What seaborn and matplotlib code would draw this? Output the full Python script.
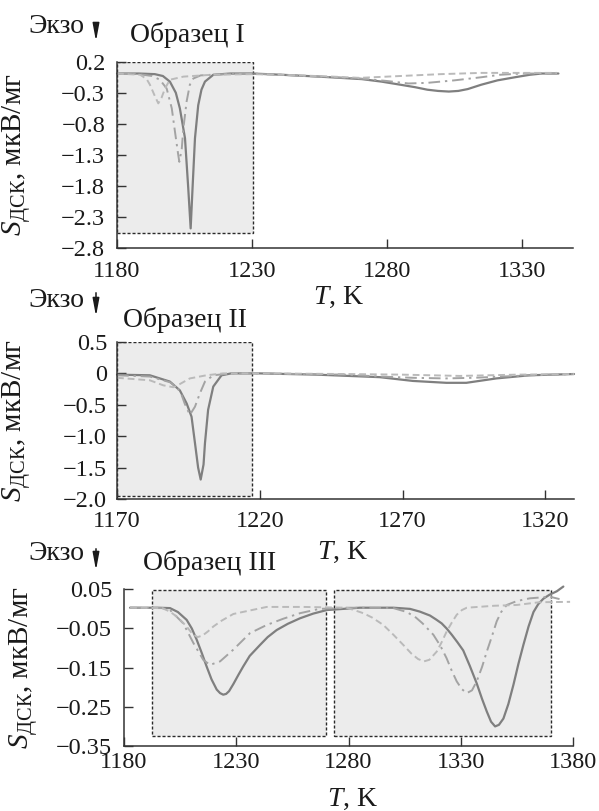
import matplotlib
matplotlib.use('Agg')
import matplotlib.pyplot as plt
import seaborn as sns
import pandas as pd
from matplotlib.patches import Rectangle, FancyArrowPatch

# ---------------- data ----------------
# Panel I
T1_solid = [1180, 1188, 1194, 1197, 1199.6, 1201.8, 1203.3, 1205.2, 1206.4, 1207.3, 1208.0, 1208.9, 1210.1,
            1211.3, 1212.6, 1215.7, 1222, 1230, 1241, 1255, 1270.7, 1278, 1285, 1290.5, 1295, 1299, 1303,
            1306.5, 1310, 1315, 1321, 1327.5, 1333, 1337.4, 1343.6]
S1_solid = [0.01, 0.01, 0.0, -0.03, -0.12, -0.3, -0.55, -1.03, -1.83, -2.48, -1.83, -1.03, -0.5,
            -0.25, -0.12, -0.01, 0.01, 0.01, -0.01, -0.04, -0.08, -0.12, -0.17, -0.21, -0.25, -0.27, -0.28,
            -0.27, -0.24, -0.17, -0.1, -0.05, -0.01, 0.01, 0.01]
T1_dd = [1180, 1188, 1193, 1195.9, 1198.4, 1200.3, 1201.5, 1202.7, 1203.1, 1204.0, 1204.6, 1205.8, 1207.0,
         1208.3, 1211, 1220, 1230, 1241, 1255, 1270, 1280, 1288, 1295, 1305, 1315, 1322, 1330, 1343]
S1_dd = [0.01, 0.0, -0.03, -0.09, -0.23, -0.55, -0.93, -1.3, -1.41, -1.2, -0.87, -0.44, -0.17,
         -0.07, -0.02, 0.0, 0.01, -0.01, -0.04, -0.07, -0.11, -0.15, -0.14, -0.1, -0.05, -0.01, 0.01, 0.01]
T1_da = [1180, 1188.6, 1191, 1192.2, 1193.8, 1195.3, 1196.5, 1197.8, 1199.6, 1204.6, 1215, 1230, 1241,
         1260, 1270, 1285, 1300, 1315, 1343]
S1_da = [0.01, -0.01, -0.08, -0.17, -0.33, -0.47, -0.38, -0.23, -0.09, -0.04, -0.01, 0.0, -0.01,
         -0.04, -0.06, -0.03, 0.0, 0.02, 0.02]

# Panel II
T2_solid = [1170, 1181.5, 1188.5, 1192, 1194.4, 1196.1, 1197.3, 1198.4, 1199.3, 1200.3, 1200.8, 1201.9,
            1203.7, 1206.6, 1210, 1220, 1240, 1262, 1273.6, 1285.3, 1292.3, 1302.8, 1314.4, 1330]
S2_solid = [-0.02, -0.03, -0.13, -0.27, -0.48, -0.69, -1.11, -1.5, -1.69, -1.45, -1.11, -0.58,
            -0.21, -0.03, 0.0, 0.0, -0.02, -0.06, -0.12, -0.15, -0.15, -0.08, -0.03, -0.01]
T2_dd = [1170, 1181.5, 1188.5, 1191, 1192.6, 1193.7, 1195.5, 1197.3, 1199, 1200.8, 1203.7, 1210, 1220,
         1250, 1262, 1273.6, 1285, 1295, 1305, 1315, 1330]
S2_dd = [-0.03, -0.05, -0.14, -0.22, -0.34, -0.48, -0.66, -0.53, -0.32, -0.13, -0.03, 0.0, 0.0,
         -0.02, -0.05, -0.07, -0.08, -0.07, -0.05, -0.03, -0.01]
T2_da = [1170, 1181.5, 1186.2, 1189.7, 1192, 1195.5, 1201.3, 1207.1, 1220, 1250, 1270, 1290, 1310, 1330]
S2_da = [-0.07, -0.11, -0.19, -0.22, -0.17, -0.08, -0.03, 0.0, 0.0, -0.01, -0.02, -0.04, -0.02, -0.01]

# Panel III
T3_solid = [1182.7, 1195, 1200.5, 1204, 1207.9, 1210.2, 1212.4, 1214.6, 1216.8, 1219, 1221.3, 1222.8,
            1224.2, 1225.5, 1226.8, 1228.7, 1231, 1233.1, 1236, 1240.6, 1244, 1248, 1253, 1258.4, 1264.3,
            1270.3, 1285, 1300, 1307.4, 1311.8, 1316.3, 1319, 1321.5, 1323.7, 1326, 1328.5, 1331.1, 1334,
            1337.1, 1339.5, 1341.6, 1343.5, 1345.3, 1347, 1349, 1351.2, 1353.5, 1355.7, 1357.9, 1360.2,
            1362.4, 1364.5, 1366.8, 1369.5, 1372.8, 1375.7]
S3_solid = [0.003, 0.003, 0.002, -0.008, -0.028, -0.05, -0.079, -0.112, -0.147, -0.18, -0.206, -0.215,
            -0.219, -0.217, -0.21, -0.192, -0.168, -0.147, -0.12, -0.092, -0.072, -0.054, -0.038, -0.024,
            -0.012, -0.003, 0.003, 0.003, 0.0, -0.007, -0.017, -0.027, -0.037, -0.05, -0.066, -0.085,
            -0.106, -0.145, -0.19, -0.23, -0.262, -0.288, -0.300, -0.296, -0.28, -0.243, -0.193, -0.14,
            -0.092, -0.045, -0.008, 0.012, 0.026, 0.036, 0.045, 0.057]
T3_dd = [1182.7, 1197, 1200.5, 1206.4, 1210.9, 1215.3, 1218.3, 1222.8, 1228.7, 1236.1, 1243.6, 1251,
         1258.4, 1267, 1280, 1300, 1306, 1310, 1313, 1317.8, 1321, 1323.7, 1326, 1328.2, 1330.5, 1332.7,
         1335, 1337.1, 1339.5, 1341.6, 1344, 1346, 1348, 1350.5, 1355, 1360.8, 1369.8, 1374]
S3_dd = [0.003, 0.002, -0.003, -0.037, -0.087, -0.13, -0.143, -0.134, -0.104, -0.062, -0.041, -0.025,
         -0.011, 0.0, 0.003, 0.002, -0.008, -0.022, -0.037, -0.066, -0.095, -0.126, -0.158, -0.185,
         -0.205, -0.215, -0.208, -0.185, -0.148, -0.109, -0.068, -0.032, -0.008, 0.01, 0.02, 0.027,
         0.031, 0.025]
T3_da = [1182.7, 1197, 1200.5, 1204, 1207.9, 1210.5, 1212.8, 1215, 1217.5, 1219.8, 1223.5, 1228.7, 1236.1,
         1243.6, 1260, 1279.2, 1283, 1286.6, 1290.5, 1295.5, 1300, 1304.4, 1308, 1311, 1313.6, 1316,
         1319.3, 1321.5, 1323.7, 1326, 1328.2, 1330.5, 1332.7, 1345, 1355, 1365, 1378.7]
S3_da = [0.003, 0.002, -0.007, -0.022, -0.045, -0.064, -0.072, -0.068, -0.057, -0.045, -0.03, -0.013,
         -0.004, 0.005, 0.005, 0.003, -0.004, -0.011, -0.022, -0.041, -0.066, -0.092, -0.114, -0.128,
         -0.134, -0.13, -0.109, -0.085, -0.058, -0.035, -0.015, -0.003, 0.003, 0.008, 0.01, 0.017, 0.018]

# axis ranges, ticks and highlighted ranges
xlims = [(1180, 1349), (1170, 1330), (1180, 1380)]
ylims = [(-2.8, 0.2), (-2.0, 0.5), (-0.35, 0.05)]
xticks = [[1180, 1230, 1280, 1330], [1170, 1220, 1270, 1320], [1180, 1230, 1280, 1330, 1380]]
yticks = [[0.2, -0.3, -0.8, -1.3, -1.8, -2.3, -2.8],
          [0.5, 0, -0.5, -1.0, -1.5, -2.0],
          [0.05, -0.05, -0.15, -0.25, -0.35]]
yticklabels = [['0.2', '−0.3', '−0.8', '−1.3', '−1.8', '−2.3', '−2.8'],
               ['0.5', '0', '−0.5', '−1.0', '−1.5', '−2.0'],
               ['0.05', '−0.05', '−0.15', '−0.25', '−0.35']]
boxes = [[(1180, 1230.5, -2.55, 0.2)],
         [(1170, 1217.2, -1.95, 0.5)],
         [(1192.5, 1270.2, -0.325, 0.048), (1273.7, 1370.2, -0.325, 0.048)]]
titles = ['Образец I', 'Образец II', 'Образец III']

# ---------------- style ----------------
sns.set_style('ticks')
plt.rcParams['font.family'] = ['Liberation Serif', 'DejaVu Serif']
plt.rcParams['mathtext.fontset'] = 'custom'
plt.rcParams['mathtext.rm'] = 'Liberation Serif'
plt.rcParams['mathtext.it'] = 'Liberation Serif:italic'
plt.rcParams['mathtext.bf'] = 'Liberation Serif:bold'

W, H = 599, 811
fig = plt.figure(figsize=(W / 100, H / 100), dpi=100)

# axes rectangles in pixels: left, top, right, bottom
rects = [(117, 61.7, 573, 248.3), (117, 342, 574, 499), (124, 589.3, 573, 746)]
series = [
    [(T1_solid, S1_solid), (T1_dd, S1_dd), (T1_da, S1_da)],
    [(T2_solid, S2_solid), (T2_dd, S2_dd), (T2_da, S2_da)],
    [(T3_solid, S3_solid), (T3_dd, S3_dd), (T3_da, S3_da)],
]
styles = [dict(color='#7f7f7f', lw=1.6, ls='-'),
          dict(color='#a3a3a3', lw=1.4, ls=(0, (6, 2.5, 1.2, 2.5))),
          dict(color='#bababa', lw=1.4, ls=(0, (3.5, 2)))]
xlabel_y = [-0.197, -0.261, -0.262]
xlabel_x = [0.486, 0.493, 0.508]
ylabel_x = [-0.184, -0.184, -0.188]
xpad = [9, 8.5, 4]
ypad = [8.6, 7.2, 8.6]
header_y = [(33, 42, 20, 44), (307, 327, 290, 319), (560, 570, 546, 573)]
title_x = [130, 123, 143]

FS_TICK = 17.5
FS_TXT = 20
for i in range(3):
    l, t, r, b = rects[i]
    ax = fig.add_axes([l / W, 1 - b / H, (r - l) / W, (b - t) / H])
    for (x0, x1, y0, y1) in boxes[i]:
        ax.add_patch(Rectangle((x0, y0), x1 - x0, y1 - y0, facecolor='#ececec',
                               edgecolor='#2a2a2a', lw=1.0, ls=(0, (2.2, 1.4)), zorder=0.5))
    for (tx, sy), st in zip(series[i], styles):
        df = pd.DataFrame({'T': tx, 'S': sy})
        sns.lineplot(data=df, x='T', y='S', ax=ax, color=st['color'], lw=st['lw'],
                     linestyle=st['ls'], estimator=None, sort=False, clip_on=False, zorder=2)
    ax.set_xlim(*xlims[i])
    ax.set_ylim(*ylims[i])
    ax.set_xticks(xticks[i])
    ax.set_xticklabels([str(v) for v in xticks[i]])
    ax.set_yticks(yticks[i])
    ax.set_yticklabels(yticklabels[i])
    sns.despine(ax=ax)
    for sp in ['left', 'bottom']:
        ax.spines[sp].set_color('#333333')
        ax.spines[sp].set_linewidth(1.1)
    ax.tick_params(axis='x', direction='in', length=6.5, width=1.0, color='#333333',
                   labelsize=FS_TICK, pad=xpad[i], labelcolor='#1a1a1a')
    ax.tick_params(axis='y', direction='in', length=6.5, width=1.0, color='#333333',
                   labelsize=FS_TICK, pad=ypad[i], labelcolor='#1a1a1a')
    ax.set_facecolor('none')
    ax.set_xlabel(r'$T$, K', fontsize=FS_TXT, color='#1a1a1a')
    ax.xaxis.set_label_coords(xlabel_x[i], xlabel_y[i])
    ax.set_ylabel(r'$S_{\mathrm{ДСК}}$, мкВ/мг', fontsize=21, color='#1a1a1a')
    ax.yaxis.set_label_coords(ylabel_x[i], 0.5)

    ey, ty, ay0, ay1 = header_y[i]
    fig.text(28 / W, 1 - ey / H, 'Экзо', fontsize=FS_TXT, va='baseline', ha='left', color='#1a1a1a')
    fig.text(title_x[i] / W, 1 - ty / H, titles[i], fontsize=FS_TXT, va='baseline', ha='left',
             color='#1a1a1a')
    fig.add_artist(FancyArrowPatch(
        (96 / W, 1 - ay0 / H), (96 / W, 1 - ay1 / H), transform=fig.transFigure,
        arrowstyle='-|>,head_length=0.75,head_width=0.14', mutation_scale=14,
        color='#1a1a1a', lw=1.1))

fig.savefig('out.png', dpi=100)
